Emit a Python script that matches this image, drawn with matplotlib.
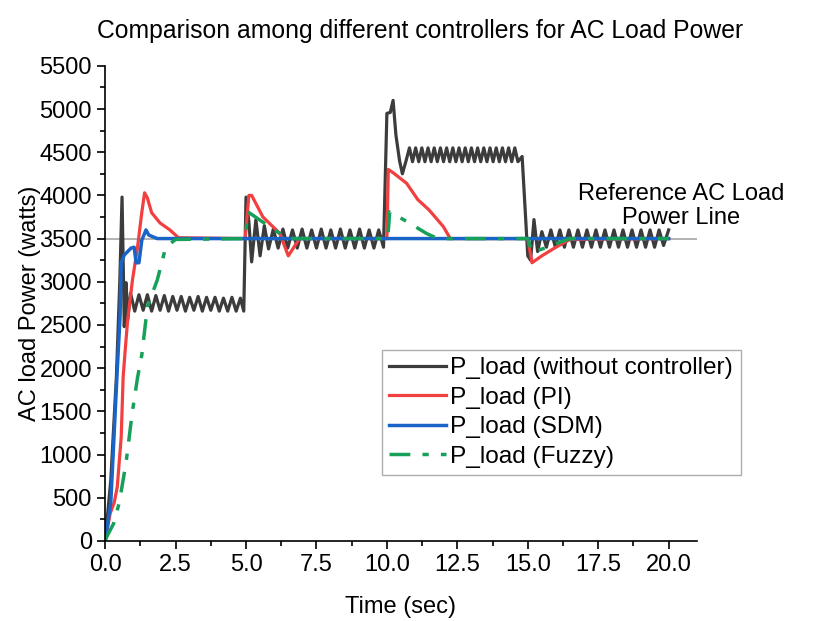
import numpy as np
import matplotlib.pyplot as plt
from matplotlib.ticker import MultipleLocator

plt.rcParams['font.family'] = ['Liberation Sans', 'DejaVu Sans']

# P_load without controller (time in s, power in W)
t_none = [0.0, 0.2, 0.4, 0.52, 0.6, 0.68, 0.74, 0.8, 0.9,
          1.05, 1.2, 1.35, 1.5, 1.65, 1.8, 1.95, 2.1, 2.25, 2.4, 2.55, 2.7, 2.85,
          3.0, 3.15, 3.3, 3.45, 3.6, 3.75, 3.9, 4.05, 4.2, 4.35, 4.5, 4.65, 4.8, 4.92,
          5.0, 5.1, 5.2, 5.35, 5.5, 5.65, 5.8, 5.97, 6.14, 6.31, 6.48, 6.65, 6.82,
          6.99, 7.16, 7.33, 7.5, 7.67, 7.84, 8.01, 8.18, 8.35, 8.52, 8.69, 8.86,
          9.03, 9.2, 9.37, 9.54, 9.71, 9.88,
          10.0, 10.12, 10.22, 10.32, 10.45, 10.55, 10.68, 10.8, 10.91, 11.02, 11.13,
          11.24, 11.35, 11.46, 11.57, 11.68, 11.79, 11.9, 12.01, 12.12, 12.23, 12.34,
          12.45, 12.56, 12.67, 12.78, 12.89, 13.0, 13.11, 13.22, 13.33, 13.44, 13.55,
          13.66, 13.77, 13.88, 13.99, 14.1, 14.21, 14.32, 14.43, 14.54, 14.65, 14.8,
          15.0, 15.1, 15.22, 15.35, 15.5, 15.66, 15.82, 15.98, 16.14, 16.3, 16.46,
          16.62, 16.78, 16.94, 17.1, 17.26, 17.42, 17.58, 17.74, 17.9, 18.06, 18.22,
          18.38, 18.54, 18.7, 18.86, 19.02, 19.18, 19.34, 19.5, 19.66, 19.82, 20.0]
p_none = [0, 700, 1900, 3000, 3980, 2480, 2990, 2560, 2870,
          2660, 2850, 2670, 2850, 2660, 2840, 2670, 2840, 2660, 2830, 2670, 2830, 2660,
          2820, 2670, 2830, 2660, 2820, 2670, 2820, 2660, 2810, 2660, 2820, 2660, 2810, 2660,
          3980, 3700, 3230, 3720, 3300, 3650, 3380, 3610, 3390, 3610, 3390, 3600, 3390,
          3610, 3390, 3600, 3390, 3610, 3390, 3600, 3390, 3610, 3390, 3600, 3390,
          3610, 3390, 3600, 3390, 3600, 3400,
          4950, 4960, 5100, 4700, 4400, 4250, 4400, 4550, 4390, 4550, 4390,
          4550, 4390, 4550, 4390, 4550, 4390, 4550, 4390, 4550, 4390, 4550,
          4390, 4550, 4390, 4550, 4390, 4550, 4390, 4550, 4390, 4550, 4390,
          4550, 4390, 4550, 4390, 4550, 4390, 4550, 4390, 4550, 4390, 4450,
          3300, 3250, 3720, 3350, 3580, 3400, 3600, 3400, 3600, 3400, 3600,
          3400, 3600, 3400, 3600, 3400, 3600, 3400, 3600, 3400, 3600, 3400,
          3600, 3400, 3600, 3400, 3600, 3400, 3600, 3400, 3600, 3420, 3600]

# P_load with PI controller
t_pi = [0.0, 0.18, 0.32, 0.43, 0.57, 0.64, 0.71, 0.8, 0.97, 1.15, 1.3, 1.4, 1.5,
        1.65, 1.95, 2.3, 2.6, 4.97, 5.1, 5.2, 5.6, 6.2, 6.5, 6.9, 10.0, 10.05, 10.23,
        10.7, 11.1, 11.5, 12.0, 12.25, 15.0, 15.15, 15.5, 16.0, 16.5, 20.0]
p_pi = [0, 320, 440, 625, 1200, 1900, 2200, 2560, 3020, 3400, 3800, 4030, 3970,
        3800, 3680, 3600, 3510, 3500, 4000, 4000, 3750, 3560, 3300, 3500, 3500, 4300, 4260,
        4140, 3950, 3830, 3640, 3500, 3500, 3220, 3300, 3400, 3490, 3500]

# P_load with SDM controller
t_sdm = [0.0, 0.2, 0.43, 0.53, 0.57, 0.68, 0.92, 1.03, 1.1, 1.2, 1.3, 1.45, 1.55,
         1.85, 5.0, 10.0, 15.0, 20.0]
p_sdm = [0, 440, 1980, 2600, 3220, 3310, 3390, 3400, 3220, 3220, 3480, 3600, 3540,
         3500, 3500, 3500, 3500, 3500]

# P_load with Fuzzy controller
t_fz = [0.0, 0.06, 0.3, 0.5, 0.74, 0.96, 1.15, 1.3, 1.5, 1.85, 2.15, 2.5, 4.98,
        5.05, 5.2, 6.0, 6.5, 10.03, 10.1, 10.8, 11.4, 11.8, 15.0, 15.15, 15.7, 16.15,
        16.5, 20.0]
p_fz = [0, 50, 200, 440, 900, 1480, 1890, 2150, 2710, 3020, 3400, 3490, 3500,
        3810, 3780, 3600, 3500, 3500, 3810, 3680, 3560, 3500, 3500, 3340, 3400, 3460,
        3500, 3500]

p_ref = 3500
t_ref_end = 21.0

fig = plt.figure(figsize=(8.15, 6.21), dpi=100)
ax = fig.add_axes([0.129, 0.129, 0.726, 0.765])

ax.plot([0, t_ref_end], [p_ref, p_ref], color='#a6a6a6', lw=1.2, zorder=1)
ax.plot(t_none, p_none, color='#3c3c3c', lw=2.3, label='P_load (without controller)')
ax.plot(t_pi, p_pi, color='#f23f3f', lw=2.3, label='P_load (PI)')
ax.plot(t_sdm, p_sdm, color='#1a64c8', lw=2.5, label='P_load (SDM)')
ax.plot(t_fz, p_fz, color='#17a05a', lw=2.5, ls=(0, (6, 3.5, 1.8, 3.5)),
        label='P_load (Fuzzy)')

ax.set_xlim(0, 21)
ax.set_ylim(0, 5500)
ax.xaxis.set_major_locator(MultipleLocator(2.5))
ax.xaxis.set_minor_locator(MultipleLocator(1.25))
ax.yaxis.set_major_locator(MultipleLocator(500))
ax.yaxis.set_minor_locator(MultipleLocator(250))
ax.xaxis.set_major_formatter(lambda v, p: f'{v:.1f}')

for s in ['top', 'right']:
    ax.spines[s].set_visible(False)
for s in ['left', 'bottom']:
    ax.spines[s].set_linewidth(1.2)
ax.tick_params(which='major', length=6, width=1.2, labelsize=17, direction='out')
ax.tick_params(which='minor', length=3.5, width=1.2, direction='out')

ax.set_xlabel('Time (sec)', fontsize=17, labelpad=14)
ax.set_ylabel('AC load Power (watts)', fontsize=17)
ax.yaxis.set_label_coords(-0.108, 0.5)
fig.text(0.515, 0.950, 'Comparison among different controllers for AC Load Power',
         ha='center', va='center', fontsize=17.8)

ax.text(20.45, 3880, 'Reference AC Load\nPower Line', ha='center', va='center',
        fontsize=17, linespacing=1.1, clip_on=False)

leg = ax.legend(loc='lower left', bbox_to_anchor=(0.468, 0.139), fontsize=17.6,
                frameon=True, fancybox=False, edgecolor='#999999', borderpad=0.3,
                handlelength=2.3, handletextpad=0.2, labelspacing=0.3,
                borderaxespad=0)
leg.get_frame().set_linewidth(1.0)

fig.savefig('out.png', dpi=100)
